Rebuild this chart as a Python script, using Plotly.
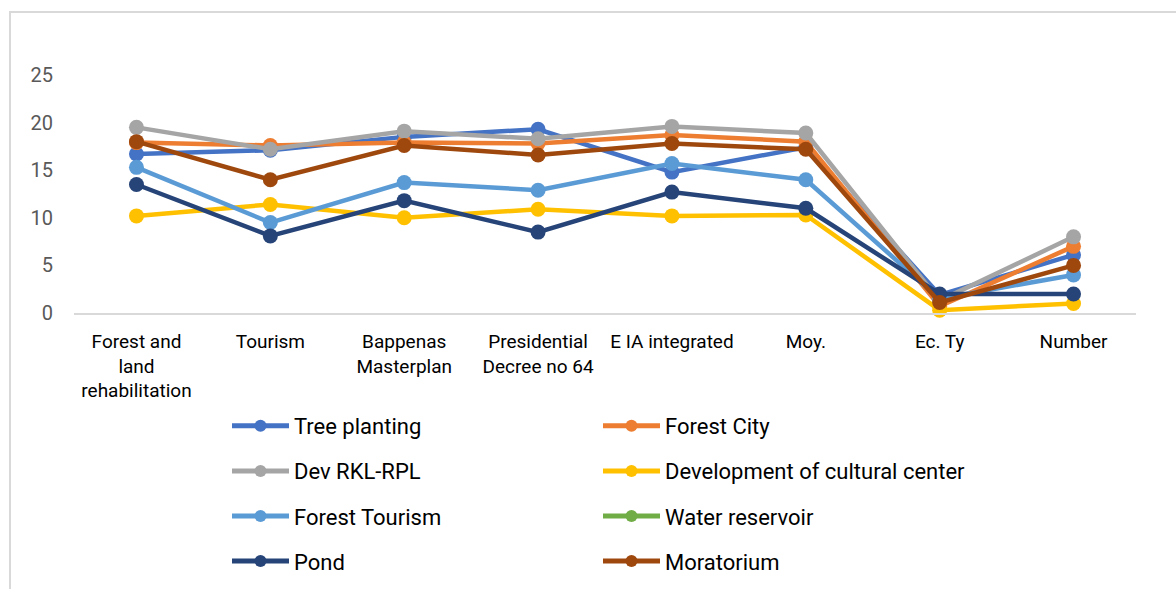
import plotly.graph_objects as go

categories = ["Forest and<br>land<br>rehabilitation", "Tourism", "Bappenas<br>Masterplan",
              "Presidential<br>Decree no 64", "E IA integrated", "Moy.", "Ec. Ty", "Number"]

tree_planting = [16.7, 17.1, 18.5, 19.3, 14.8, 17.4, 1.9, 6.1]
forest_city = [17.9, 17.6, 17.9, 17.8, 18.7, 18.0, 0.7, 7.0]
dev_rkl_rpl = [19.5, 17.2, 19.1, 18.3, 19.6, 18.9, 1.3, 8.0]
cultural_center = [10.2, 11.4, 10.0, 10.9, 10.2, 10.3, 0.3, 1.0]
forest_tourism = [15.3, 9.5, 13.7, 12.9, 15.7, 14.0, 1.5, 4.0]
water_reservoir = [None, None, None, None, None, None, None, None]
pond = [13.5, 8.1, 11.8, 8.5, 12.7, 11.0, 2.0, 2.0]
moratorium = [18.0, 14.0, 17.6, 16.6, 17.8, 17.2, 1.1, 5.0]

y_ticks = [0, 5, 10, 15, 20, 25]

series = [
    ("Tree planting", tree_planting, "#4472C4", "legend"),
    ("Forest City", forest_city, "#ED7D31", "legend2"),
    ("Dev RKL-RPL", dev_rkl_rpl, "#A5A5A5", "legend"),
    ("Development of cultural center", cultural_center, "#FFC000", "legend2"),
    ("Forest Tourism", forest_tourism, "#5B9BD5", "legend"),
    ("Water reservoir", water_reservoir, "#70AD47", "legend2"),
    ("Pond", pond, "#264478", "legend"),
    ("Moratorium", moratorium, "#9E480E", "legend2"),
]

fig = go.Figure()
for name, vals, color, leg in series:
    fig.add_trace(go.Scatter(
        x=categories, y=vals, name=name, mode="lines+markers",
        line=dict(color=color, width=4.5),
        marker=dict(color=color, size=15),
        legend=leg, legendgroup=name, cliponaxis=False,
    ))

L, R, T, B = 74, 1136, 75, 313
W, H = 1176, 589
pw, ph = R - L, B - T

def px_x(x):
    return (x - L) / pw

def px_y(y):
    return (B - y) / ph

legend_common = dict(
    font=dict(family="Roboto", size=22, color="#000000"),
    bgcolor="rgba(0,0,0,0)", borderwidth=0,
    orientation="v", tracegroupgap=13.5, itemwidth=57, itemsizing="constant",
    xanchor="left", yanchor="top",
)

fig.update_layout(
    width=W, height=H,
    margin=dict(l=L, r=W - R, t=T, b=H - B, autoexpand=False),
    paper_bgcolor="white", plot_bgcolor="white",
    showlegend=True,
    legend=dict(x=px_x(227), y=px_y(405), **legend_common),
    legend2=dict(x=px_x(598), y=px_y(405), **legend_common),
    xaxis=dict(
        showgrid=False, zeroline=False, showline=True, linecolor="#D9D9D9", linewidth=2,
        tickfont=dict(family="Roboto", size=19, color="#000000"),
        ticks="", ticklabelstandoff=10,
    ),
    yaxis=dict(
        range=[0, 25], tickvals=y_ticks, showgrid=False, zeroline=False, showline=False,
        tickfont=dict(family="Roboto", size=20, color="#595959"),
        ticks="", ticklabelstandoff=20,
    ),
    shapes=[dict(
        type="rect", xref="paper", yref="paper",
        x0=px_x(10), x1=px_x(1200), y0=px_y(620), y1=px_y(12),
        line=dict(color="#D9D9D9", width=2), layer="below",
    )],
)

fig.write_html("out.html")
